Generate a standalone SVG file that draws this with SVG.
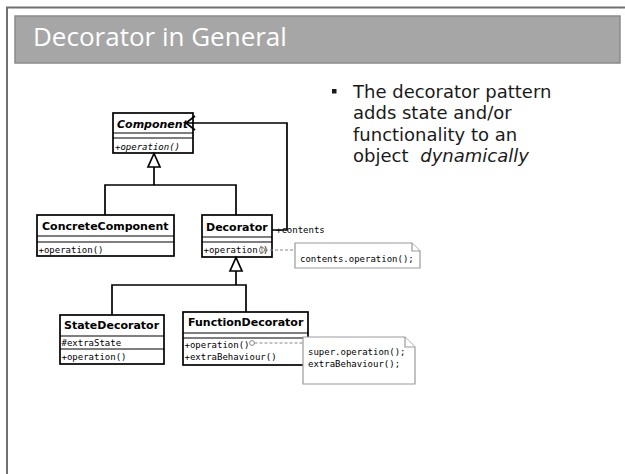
<svg xmlns="http://www.w3.org/2000/svg" width="625" height="474" viewBox="0 0 625 474">
  <style>
    .frame { fill: none; stroke: #707070; stroke-width: 2; }
    .titlebar { fill: #a6a6a6; stroke: #8a8a8a; stroke-width: 1.5; }
    .title { font-family: "Open Sans", "DejaVu Sans", sans-serif; font-size: 26px; fill: #ffffff; }
    .bullet { font-family: "DejaVu Sans", sans-serif; font-size: 18px; fill: #1a1a1a; }
    .box { fill: #ffffff; stroke: #000000; stroke-width: 1.7; }
    .div { stroke: #000000; stroke-width: 1.2; }
    .cname { font-family: "DejaVu Sans", sans-serif; font-size: 11px; font-weight: bold; fill: #000; }
    .mono { font-family: "DejaVu Sans Mono", "Liberation Mono", monospace; font-size: 9px; fill: #000; }
    .link { fill: none; stroke: #000000; stroke-width: 1.7; }
    .gen { fill: #ffffff; stroke: #000000; stroke-width: 1.7; }
    .anchor { fill: none; stroke: #888888; stroke-width: 1; stroke-dasharray: 3 2; }
    .note { fill: #ffffff; stroke: #9a9a9a; stroke-width: 1.2; }
    .pin { fill: #ffffff; stroke: #888888; stroke-width: 1; }
  </style>

  <!-- slide frame and title bar -->
  <path class="frame" d="M7,474 V7.5 H625"/>
  <rect class="titlebar" x="15" y="16" width="605" height="47"/>
  <text class="title" x="33" y="46">Decorator in General</text>

  <!-- bullet text -->
  <g id="bullet">
    <rect x="332" y="89" width="4.5" height="4.5" fill="#1a1a1a"/>
    <text class="bullet" x="353" y="98">The decorator pattern</text>
    <text class="bullet" x="353" y="119">adds state and/or</text>
    <text class="bullet" x="353" y="141">functionality to an</text>
    <text class="bullet" x="353" y="162">object <tspan dx="6" font-style="italic">dynamically</tspan></text>
  </g>

  <!-- classes -->
  <g id="component">
    <rect class="box" x="113" y="113" width="80" height="40"/>
    <line class="div" x1="113" y1="133" x2="193" y2="133"/>
    <line class="div" x1="113" y1="138" x2="193" y2="138"/>
    <text class="cname" x="117" y="128" font-style="italic">Component</text>
    <text class="mono" x="115" y="149.5" font-style="italic">+operation()</text>
  </g>

  <g id="concrete-component">
    <rect class="box" x="37" y="215" width="137" height="41"/>
    <line class="div" x1="37" y1="236" x2="174" y2="236"/>
    <line class="div" x1="37" y1="242" x2="174" y2="242"/>
    <text class="cname" x="42" y="230">ConcreteComponent</text>
    <text class="mono" x="38.5" y="252.5">+operation()</text>
  </g>

  <g id="decorator">
    <rect class="box" x="202" y="215" width="70" height="42"/>
    <line class="div" x1="202" y1="237" x2="272" y2="237"/>
    <line class="div" x1="202" y1="242" x2="272" y2="242"/>
    <text class="cname" x="206" y="230.5">Decorator</text>
    <text class="mono" x="203.5" y="253">+operation()</text>
  </g>

  <g id="state-decorator">
    <rect class="box" x="60" y="315" width="104" height="49"/>
    <line class="div" x1="60" y1="336" x2="164" y2="336"/>
    <line class="div" x1="60" y1="349" x2="164" y2="349"/>
    <text class="cname" x="64" y="329">StateDecorator</text>
    <text class="mono" x="61.5" y="345.5">#extraState</text>
    <text class="mono" x="61.5" y="359.5">+operation()</text>
  </g>

  <g id="function-decorator">
    <rect class="box" x="183" y="312" width="125" height="53"/>
    <line class="div" x1="183" y1="333" x2="308" y2="333"/>
    <line class="div" x1="183" y1="338" x2="308" y2="338"/>
    <text class="cname" x="188" y="326">FunctionDecorator</text>
    <text class="mono" x="184.5" y="347.5">+operation()</text>
    <text class="mono" x="184.5" y="360">+extraBehaviour()</text>
  </g>

  <!-- notes -->
  <g id="note-decorator">
    <path class="note" d="M295,243 H412 L420,251 V268 H295 Z"/>
    <path class="note" d="M412,243 V251 H420"/>
    <text class="mono" x="300" y="262">contents.operation();</text>
  </g>

  <g id="note-function">
    <path class="note" d="M303,337 H405 L415,347 V384 H303 Z"/>
    <path class="note" d="M405,337 V347 H415"/>
    <text class="mono" x="308" y="355">super.operation();</text>
    <text class="mono" x="308" y="367">extraBehaviour();</text>
  </g>

  <!-- connectors -->
  <g id="connectors">
    <!-- generalization to Component -->
    <path class="link" d="M105,215 V185 H236 V215"/>
    <line class="link" x1="154" y1="167" x2="154" y2="185"/>
    <polygon class="gen" points="154,153.5 148,167 160,167"/>

    <!-- generalization to Decorator -->
    <path class="link" d="M112,315 V285 H246 V312"/>
    <line class="link" x1="236" y1="271" x2="236" y2="285"/>
    <polygon class="gen" points="236,257.5 230,271 242,271"/>

    <!-- association contents: Decorator -> Component -->
    <path class="link" d="M272,230 H287 V123 H186"/>
    <path class="link" d="M195,116 L186,123 L195,130"/>
    <text class="mono" x="276" y="233">+contents</text>

    <!-- note anchors -->
    <line class="anchor" x1="265" y1="250" x2="295" y2="250"/>
    <circle class="pin" cx="262" cy="250" r="2.6"/>
    <line x1="262" y1="246.5" x2="262" y2="253.5" stroke="#888" stroke-width="1"/>
    <line class="anchor" x1="254.5" y1="343" x2="303" y2="343"/>
    <circle class="pin" cx="252" cy="343" r="2.4"/>
  </g>
</svg>
